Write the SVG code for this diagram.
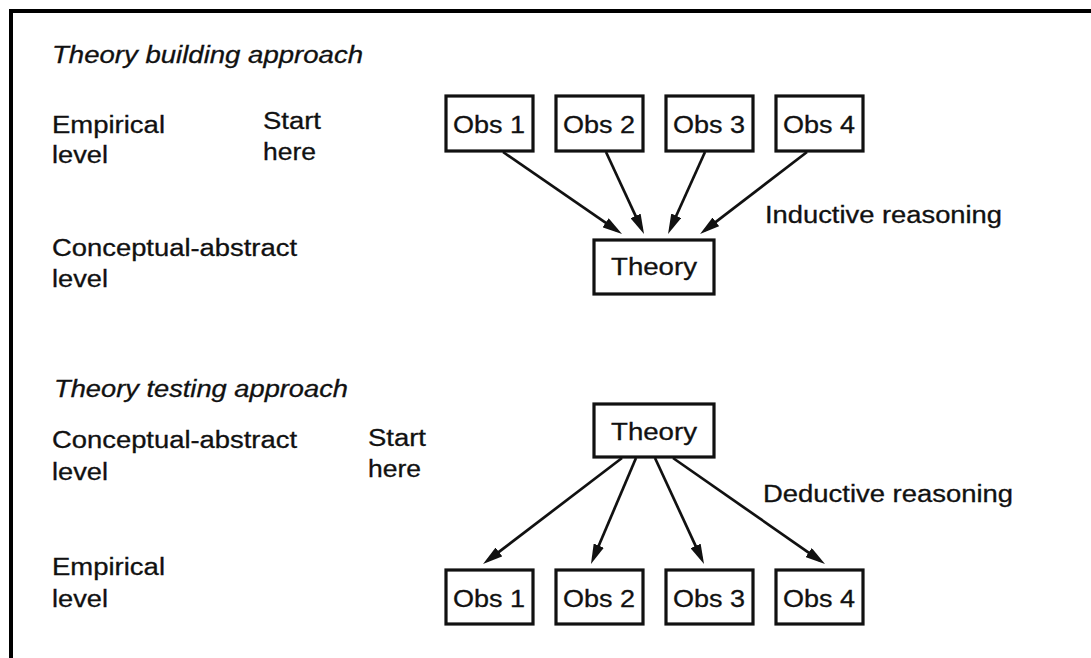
<svg xmlns="http://www.w3.org/2000/svg" width="1091" height="658" viewBox="0 0 1091 658">
  <style>
    text { font-family: "Liberation Sans", Arial, Helvetica, sans-serif; font-size: 23px; fill: #111; stroke: #111; stroke-width: 0.3; }
    .title { font-style: italic; }
    .mid { text-anchor: middle; }
    .box { fill: #fff; stroke: #111; stroke-width: 3.2; }
    .edge { fill: none; stroke: #111; stroke-width: 2.7; }
    .frame { fill: none; stroke: #000; stroke-width: 4; }
  </style>
  <defs>
    <marker id="arrow" viewBox="0 0 20 11" refX="14" refY="5.5" markerWidth="20" markerHeight="11" markerUnits="userSpaceOnUse" orient="auto">
      <path d="M0,0 L20,5.5 L0,11 Z" fill="#111"/>
    </marker>
  </defs>

  <rect width="1091" height="658" fill="#fff"/>
  <path class="frame" d="M11,658 V11 H1091"/>

  <!-- Theory building: labels -->
  <g id="labels-building">
    <text class="title" x="52" y="63" textLength="311" lengthAdjust="spacingAndGlyphs">Theory building approach</text>
    <text x="52" y="133" textLength="113" lengthAdjust="spacingAndGlyphs">Empirical</text>
    <text x="52" y="163" textLength="56" lengthAdjust="spacingAndGlyphs">level</text>
    <text x="263" y="129" textLength="58" lengthAdjust="spacingAndGlyphs">Start</text>
    <text x="263" y="160" textLength="53" lengthAdjust="spacingAndGlyphs">here</text>
    <text x="52" y="256" textLength="245" lengthAdjust="spacingAndGlyphs">Conceptual-abstract</text>
    <text x="52" y="287" textLength="56" lengthAdjust="spacingAndGlyphs">level</text>
    <text x="765" y="223" textLength="237" lengthAdjust="spacingAndGlyphs">Inductive reasoning</text>
  </g>

  <!-- Theory building: nodes -->
  <g id="b-obs1"><rect class="box" x="446" y="96" width="87" height="55"/><text class="mid" x="489" y="133" textLength="72" lengthAdjust="spacingAndGlyphs">Obs 1</text></g>
  <g id="b-obs2"><rect class="box" x="556" y="96" width="87" height="55"/><text class="mid" x="599" y="133" textLength="72" lengthAdjust="spacingAndGlyphs">Obs 2</text></g>
  <g id="b-obs3"><rect class="box" x="666" y="96" width="87" height="55"/><text class="mid" x="709" y="133" textLength="72" lengthAdjust="spacingAndGlyphs">Obs 3</text></g>
  <g id="b-obs4"><rect class="box" x="776" y="96" width="87" height="55"/><text class="mid" x="819" y="133" textLength="72" lengthAdjust="spacingAndGlyphs">Obs 4</text></g>
  <g id="b-theory"><rect class="box" x="594" y="240" width="120" height="54"/><text class="mid" x="654" y="275" textLength="86" lengthAdjust="spacingAndGlyphs">Theory</text></g>

  <!-- Theory testing: labels -->
  <g id="labels-testing">
    <text class="title" x="54" y="397" textLength="294" lengthAdjust="spacingAndGlyphs">Theory testing approach</text>
    <text x="52" y="448" textLength="245" lengthAdjust="spacingAndGlyphs">Conceptual-abstract</text>
    <text x="52" y="480" textLength="56" lengthAdjust="spacingAndGlyphs">level</text>
    <text x="368" y="446" textLength="58" lengthAdjust="spacingAndGlyphs">Start</text>
    <text x="368" y="477" textLength="53" lengthAdjust="spacingAndGlyphs">here</text>
    <text x="52" y="575" textLength="113" lengthAdjust="spacingAndGlyphs">Empirical</text>
    <text x="52" y="607" textLength="56" lengthAdjust="spacingAndGlyphs">level</text>
    <text x="763" y="502" textLength="250" lengthAdjust="spacingAndGlyphs">Deductive reasoning</text>
  </g>

  <!-- Theory testing: nodes -->
  <g id="t-theory"><rect class="box" x="594" y="404" width="120" height="53"/><text class="mid" x="654" y="440" textLength="86" lengthAdjust="spacingAndGlyphs">Theory</text></g>
  <g id="t-obs1"><rect class="box" x="446" y="570" width="87" height="54"/><text class="mid" x="489" y="607" textLength="72" lengthAdjust="spacingAndGlyphs">Obs 1</text></g>
  <g id="t-obs2"><rect class="box" x="556" y="570" width="87" height="54"/><text class="mid" x="599" y="607" textLength="72" lengthAdjust="spacingAndGlyphs">Obs 2</text></g>
  <g id="t-obs3"><rect class="box" x="666" y="570" width="87" height="54"/><text class="mid" x="709" y="607" textLength="72" lengthAdjust="spacingAndGlyphs">Obs 3</text></g>
  <g id="t-obs4"><rect class="box" x="776" y="570" width="87" height="54"/><text class="mid" x="819" y="607" textLength="72" lengthAdjust="spacingAndGlyphs">Obs 4</text></g>

  <!-- Connectors (each line stops 6px short; the marker head reaches the tip) -->
  <g id="connectors">
    <line class="edge" x1="503" y1="152" x2="617.1" y2="230.6" marker-end="url(#arrow)"/>
    <line class="edge" x1="606" y1="152" x2="641.5" y2="228.6" marker-end="url(#arrow)"/>
    <line class="edge" x1="705" y1="152" x2="670.5" y2="228.5" marker-end="url(#arrow)"/>
    <line class="edge" x1="807" y1="152" x2="704.8" y2="230.4" marker-end="url(#arrow)"/>
    <line class="edge" x1="622" y1="458" x2="487.8" y2="560.4" marker-end="url(#arrow)"/>
    <line class="edge" x1="636" y1="458" x2="593.3" y2="558.5" marker-end="url(#arrow)"/>
    <line class="edge" x1="655" y1="458" x2="701.5" y2="558.6" marker-end="url(#arrow)"/>
    <line class="edge" x1="673" y1="458" x2="820.1" y2="560.6" marker-end="url(#arrow)"/>
  </g>
</svg>
